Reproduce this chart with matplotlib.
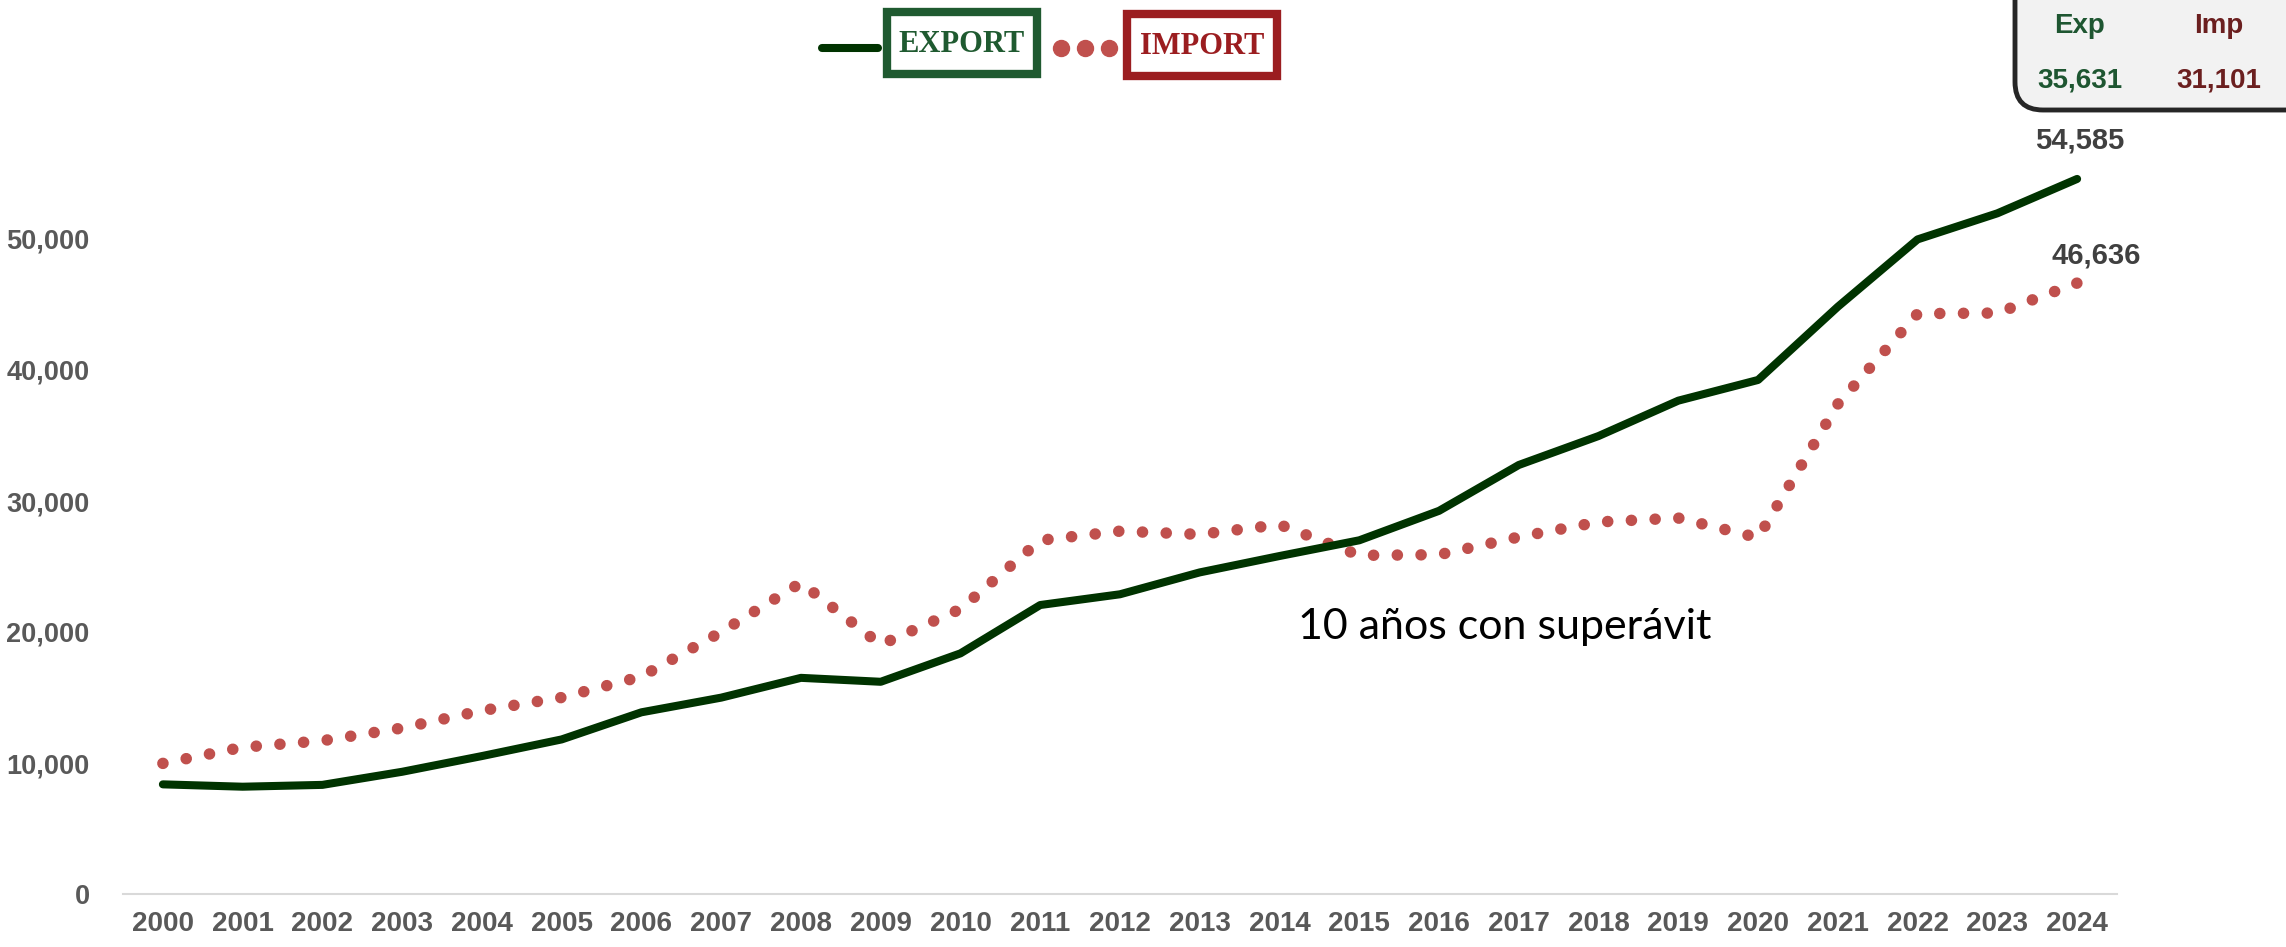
import matplotlib
matplotlib.use("Agg")
import matplotlib.pyplot as plt
from matplotlib.patches import FancyBboxPatch, Rectangle
from matplotlib.lines import Line2D
from matplotlib.transforms import IdentityTransform

years = [str(y) for y in range(2000, 2025)]
exports = [8370, 8190, 8330, 9330, 10530, 11800, 13870, 14990, 16500, 16200,
           18370, 22060, 22880, 24550, 25800, 27000, 29250, 32750, 34960, 37660,
           39240, 44830, 49970, 51960, 54585]
imports = [9970, 11200, 11700, 12670, 14000, 15000, 16600, 20000, 23760, 19030,
           21750, 27000, 27700, 27450, 28200, 25850, 25900, 27250, 28400, 28700,
           27200, 37400, 44300, 44350, 46636]
yticks = [0, 10000, 20000, 30000, 40000, 50000]
summary_labels = ["Exp", "Imp"]
summary_values = ["35,631", "31,101"]
note_text = "10 años con superávit"

W, H = 2286, 947
EXP_C = "#003300"
IMP_C = "#c0504d"
SANS = ["Liberation Sans", "DejaVu Sans"]

fig = plt.figure(figsize=(W / 100, H / 100), dpi=100)
ax = fig.add_axes([123 / W, 1 - 894 / H, (2117 - 123) / W, (894 - 108) / H])

x = list(range(len(years)))
ax.plot(x, exports, color=EXP_C, lw=5.8, solid_capstyle="round",
        solid_joinstyle="round", clip_on=False, zorder=3)
ax.plot(x, imports, color=IMP_C, lw=8.3, linestyle=(0, (0.01, 2.05)),
        dash_capstyle="round", clip_on=False, zorder=2)

ax.set_xlim(-0.5, len(years) - 0.5)
ax.set_ylim(0, 60000)
ax.set_xticks(x)
ax.set_xticklabels(years)
ax.set_yticks(yticks)
ax.set_yticklabels([f"{v:,}" for v in yticks])
for lab in ax.get_xticklabels():
    lab.set_fontfamily(SANS)
    lab.set_fontweight("bold")
    lab.set_fontsize(20)
    lab.set_color("#595959")
for lab in ax.get_yticklabels():
    lab.set_fontfamily(SANS)
    lab.set_fontweight("bold")
    lab.set_fontsize(19.5)
    lab.set_color("#595959")
ax.tick_params(axis="both", length=0)
ax.tick_params(axis="y", pad=24)
ax.tick_params(axis="x", pad=12)
for s in ["top", "right", "left"]:
    ax.spines[s].set_visible(False)
ax.spines["bottom"].set_color("#d9d9d9")
ax.spines["bottom"].set_linewidth(1.5)

# end labels
ax.annotate(f"{exports[-1]:,}", (x[-1], exports[-1]), xytext=(2, 28),
            textcoords="offset points", ha="center", va="center",
            fontsize=21, fontweight="bold", color="#404040", family=SANS)
ax.annotate(f"{imports[-1]:,}", (x[-1], imports[-1]), xytext=(14, 20),
            textcoords="offset points", ha="center", va="center",
            fontsize=21, fontweight="bold", color="#404040", family=SANS)

ax.text(1298 / W, 1 - 627 / H, note_text, transform=fig.transFigure,
        ha="left", va="center", fontsize=31, color="#000000", family="Lato")

# legend (stamps)
def fx(px):
    return px / W

def fy(py):
    return 1 - py / H

fig.add_artist(Line2D([fx(822), fx(878)], [fy(48), fy(48)], color=EXP_C, lw=5.8,
                      solid_capstyle="round"))
fig.add_artist(Rectangle((fx(887), fy(74)), fx(150), 62 / H, fill=False,
                         edgecolor="#1f5a30", lw=6, transform=fig.transFigure))
fig.text(fx(962), fy(45), "EXPORT", ha="center", va="center", fontsize=22,
         fontweight="bold", family="Liberation Serif", color="#1f5a30")
for dx in [1061, 1085, 1109]:
    fig.add_artist(Line2D([fx(dx)], [fy(48)], marker="o", markersize=11.5,
                          color=IMP_C, lw=0))
fig.add_artist(Rectangle((fx(1127), fy(76)), fx(150), 62 / H, fill=False,
                         edgecolor="#9b1d20", lw=6, transform=fig.transFigure))
fig.text(fx(1202), fy(46), "IMPORT", ha="center", va="center", fontsize=22,
         fontweight="bold", family="Liberation Serif", color="#9b1d20")

# summary box (pixel coords)
box = FancyBboxPatch((2015, H - 110), 330, 160,
                     boxstyle="round,pad=0,rounding_size=28",
                     transform=IdentityTransform(), facecolor="#f2f2f2",
                     edgecolor="#262626", lw=3.5, zorder=5)
fig.add_artist(box)
cols = ["#1e5631", "#6b1f1f"]
xs = [2080, 2219]
for lab, val, c, px in zip(summary_labels, summary_values, cols, xs):
    fig.text(fx(px), fy(26), lab, ha="center", va="center", fontsize=20,
             fontweight="bold", color=c, family=SANS, zorder=6)
    fig.text(fx(px), fy(80), val, ha="center", va="center", fontsize=20,
             fontweight="bold", color=c, family=SANS, zorder=6)

fig.savefig("out.png", dpi=100)
